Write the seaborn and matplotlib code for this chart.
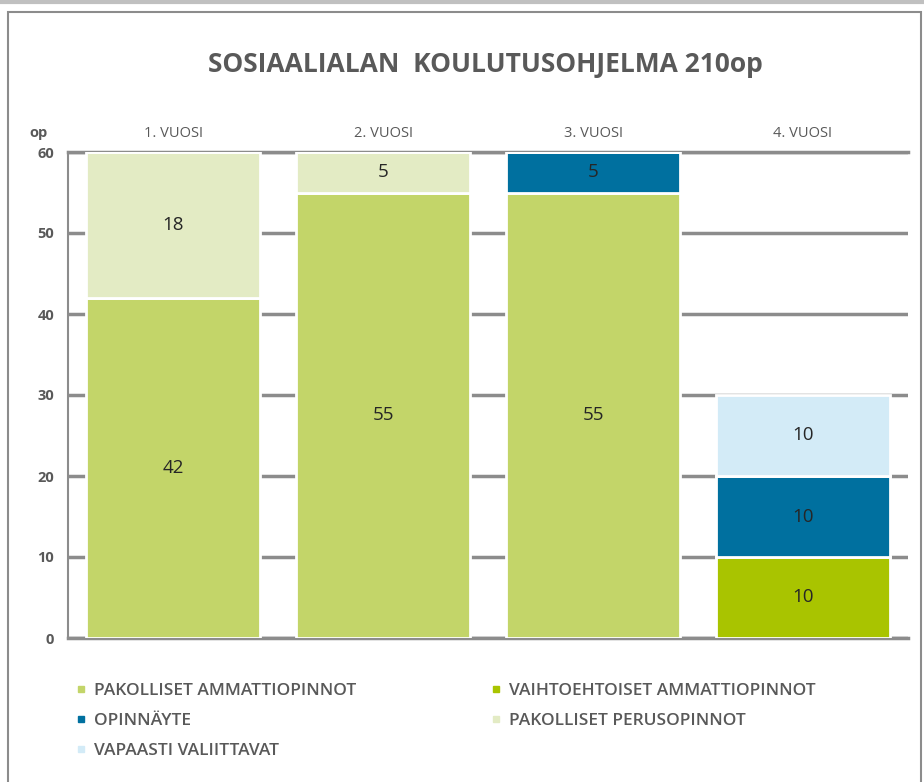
import matplotlib
matplotlib.use("Agg")
from matplotlib import pyplot as plt
from matplotlib.lines import Line2D
from matplotlib.patches import Rectangle
import seaborn as sns
import pandas as pd
import numpy as np

years = ["1. VUOSI", "2. VUOSI", "3. VUOSI", "4. VUOSI"]
series = ["PAKOLLISET AMMATTIOPINNOT", "VAIHTOEHTOISET AMMATTIOPINNOT",
          "OPINNÄYTE", "PAKOLLISET PERUSOPINNOT", "VAPAASTI VALIITTAVAT"]
pakolliset_amm = [42, 55, 55, 0]
vaihtoehtoiset = [0, 0, 0, 10]
opinnayte = [0, 0, 5, 10]
perusopinnot = [18, 5, 0, 0]
vapaasti = [0, 0, 0, 10]
colors = ["#c3d569", "#a9c400", "#00709f", "#e3ebc4", "#d3ebf7"]

sns.set_theme(style="white")
plt.rcParams["font.family"] = ["Open Sans", "DejaVu Sans"]
grey = "#595959"

fig = plt.figure(figsize=(9.24, 7.82), dpi=100)
ax = fig.add_axes([68 / 924, 1 - 638 / 782, 840 / 924, 486 / 782])

values = [pakolliset_amm, vaihtoehtoiset, opinnayte, perusopinnot, vapaasti]
bottom = np.zeros(len(years))
for name, vals, col in zip(series, values, colors):
    df = pd.DataFrame({"year": years, "op": vals})
    sns.barplot(data=df, x="year", y="op", order=years, color=col, width=0.83,
                bottom=bottom, edgecolor="white", linewidth=2, saturation=1,
                ax=ax, zorder=3)
    for i, v in enumerate(vals):
        if v > 0:
            ax.text(i, bottom[i] + v / 2, str(v), ha="center", va="center",
                    fontsize=13.5, color="#262626", zorder=4)
    bottom = bottom + np.array(vals)

ax.set_xlim(-0.5, 3.5)
ax.set_ylim(0, 60)
ax.set_yticks(range(0, 61, 10))
ax.set_xlabel("")
ax.set_ylabel("")
ax.yaxis.grid(True, color="#8c8c8c", linewidth=2.5, zorder=0)
ax.set_axisbelow(True)
ax.xaxis.tick_top()
ax.tick_params(axis="x", length=0, pad=8, labelsize=10.5, labelcolor=grey)
ax.tick_params(axis="y", length=0, pad=10, labelsize=10.5, labelcolor=grey)
for lab in ax.get_yticklabels():
    lab.set_fontweight("bold")
for s in ["top", "bottom"]:
    ax.spines[s].set_color("#8c8c8c")
    ax.spines[s].set_linewidth(2.5)
ax.spines["left"].set_color("#8c8c8c")
ax.spines["left"].set_linewidth(1.5)
ax.spines["right"].set_visible(False)
ax.text(-0.024, 1.04, "op", transform=ax.transAxes, ha="right", va="center",
        fontsize=10.5, fontweight="bold", color=grey)

fig.text(485 / 924, 1 - 64 / 782, "SOSIAALIALAN  KOULUTUSOHJELMA 210op",
         ha="center", va="center", fontsize=19, fontweight="bold", color=grey)

handles = [Line2D([], [], marker="s", linestyle="", markersize=5,
                  markerfacecolor=c, markeredgecolor=c) for c in colors]
order = [0, 2, 4, 1, 3]
leg = fig.legend([handles[i] for i in order], [series[i] for i in order],
                 ncol=2, loc="upper left", bbox_to_anchor=(58 / 924, 1 - 667 / 782),
                 frameon=False, handlelength=0.8, handletextpad=0.4,
                 columnspacing=7.6, labelspacing=0.8, fontsize=12.5)
for t in leg.get_texts():
    t.set_color(grey)
    t.set_fontweight("semibold")

fig.patches.append(Rectangle((8 / 924, -0.01), 913 / 924, 1 - 12 / 782 + 0.01,
                             transform=fig.transFigure, fill=False,
                             edgecolor="#8c8c8c", linewidth=1.5))
fig.add_artist(Line2D([0, 1], [1 - 1.5 / 782] * 2, color="#c0c0c0", linewidth=3,
                      transform=fig.transFigure))

fig.savefig("out.png", dpi=100)
